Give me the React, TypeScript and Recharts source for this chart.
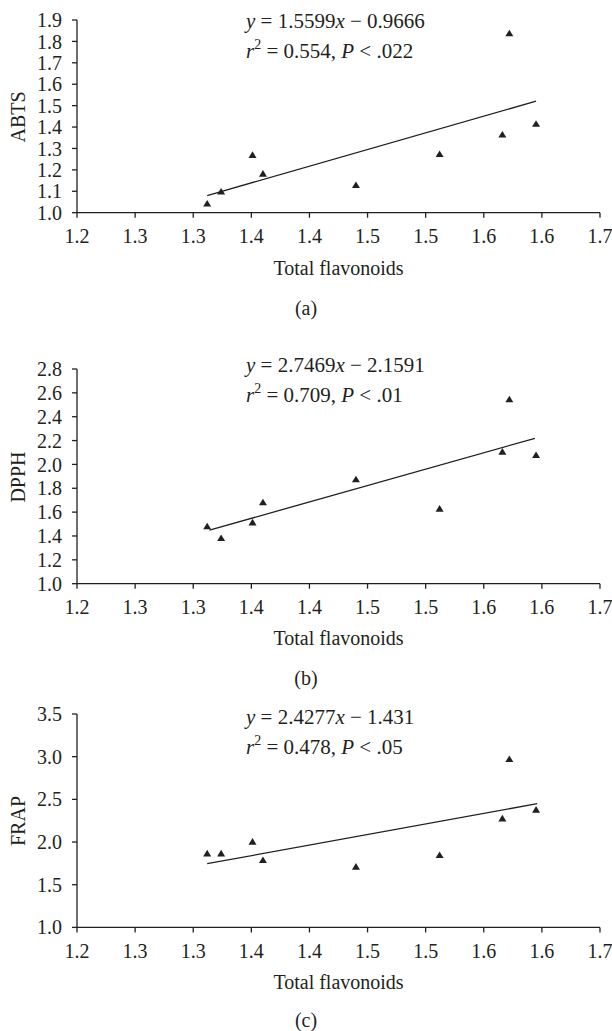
import { ScatterChart, Scatter, XAxis, YAxis } from "recharts";

const INK = "#231f20";
const FONT = '"Liberation Serif", "Times New Roman", serif';

// total flavonoids (shared x for the three panels)
const FLAVONOIDS = [1.312, 1.324, 1.351, 1.36, 1.44, 1.512, 1.566, 1.572, 1.595];
const ABTS = [1.043, 1.099, 1.27, 1.182, 1.129, 1.274, 1.365, 1.838, 1.415];
const DPPH = [1.481, 1.383, 1.514, 1.682, 1.875, 1.629, 2.107, 2.546, 2.079];
const FRAP = [1.867, 1.867, 2.004, 1.789, 1.711, 1.848, 2.277, 2.973, 2.379];

// fitted line end points
const TREND_ABTS = [
  { x: 1.312, y: 1.08 },
  { x: 1.595, y: 1.521 },
];
const TREND_DPPH = [
  { x: 1.314, y: 1.449 },
  { x: 1.594, y: 2.219 },
];
const TREND_FRAP = [
  { x: 1.312, y: 1.746 },
  { x: 1.596, y: 2.449 },
];

const X_TICKS = [1.2, 1.25, 1.3, 1.35, 1.4, 1.45, 1.5, 1.55, 1.6, 1.65];
const X_TICK_LABELS = ["1.2", "1.3", "1.3", "1.4", "1.4", "1.5", "1.5", "1.6", "1.6", "1.7"];
const Y_TICKS_ABTS = [1.0, 1.1, 1.2, 1.3, 1.4, 1.5, 1.6, 1.7, 1.8, 1.9];
const Y_TICKS_DPPH = [1.0, 1.2, 1.4, 1.6, 1.8, 2.0, 2.2, 2.4, 2.6, 2.8];
const Y_TICKS_FRAP = [1.0, 1.5, 2.0, 2.5, 3.0, 3.5];

const toPoints = (ys: number[]) => FLAVONOIDS.map((x, i) => ({ x, y: ys[i] }));

const Triangle = (props: any) => {
  const { cx, cy } = props;
  if (cx == null || cy == null) return <g />;
  return (
    <path
      d={`M${cx},${cy - 3.6}L${cx + 4},${cy + 3}L${cx - 4},${cy + 3}Z`}
      fill={INK}
    />
  );
};

const NoDot = () => <g />;

interface PanelProps {
  plotTop: number;
  plotBottom: number;
  yTicks: number[];
  values: number[];
  trend: { x: number; y: number }[];
}

const X_AXIS_H = 40;
const TICK_FONT = { fontSize: 20, fill: INK, fontFamily: FONT };

function Panel({ plotTop, plotBottom, yTicks, values, trend }: PanelProps) {
  const top = plotTop - 20;
  const height = plotBottom + X_AXIS_H - top;
  return (
    <div style={{ position: "absolute", left: 0, top, width: 612, height }}>
      <ScatterChart
        width={612}
        height={height}
        margin={{ top: 20, right: 12, bottom: 0, left: 0 }}
        style={{ fontFamily: FONT }}
      >
        <XAxis
          type="number"
          dataKey="x"
          domain={[1.2, 1.65]}
          ticks={X_TICKS}
          tickFormatter={(_v: number, i: number) => X_TICK_LABELS[i]}
          height={X_AXIS_H}
          tickSize={5}
          tickMargin={11}
          axisLine={{ stroke: INK, strokeWidth: 1.3 }}
          tickLine={{ stroke: INK, strokeWidth: 1.3 }}
          tick={TICK_FONT}
          interval={0}
          allowDataOverflow
        />
        <YAxis
          type="number"
          dataKey="y"
          domain={[yTicks[0], yTicks[yTicks.length - 1]]}
          ticks={yTicks}
          tickFormatter={(v: number) => v.toFixed(1)}
          width={77}
          tickSize={5}
          tickMargin={10}
          axisLine={{ stroke: INK, strokeWidth: 1.3 }}
          tickLine={{ stroke: INK, strokeWidth: 1.3 }}
          tick={TICK_FONT}
          interval={0}
          allowDataOverflow
        />
        <Scatter
          data={trend}
          line={{ stroke: INK, strokeWidth: 1.3 }}
          shape={NoDot}
          isAnimationActive={false}
        />
        <Scatter data={toPoints(values)} shape={Triangle} isAnimationActive={false} />
      </ScatterChart>
    </div>
  );
}

const textBase: React.CSSProperties = {
  position: "absolute",
  fontFamily: FONT,
  color: INK,
  lineHeight: 1,
  whiteSpace: "nowrap",
};

function Centered({ x, y, size = 20, rotate = false, children }: any) {
  return (
    <div
      style={{
        ...textBase,
        left: x,
        top: y,
        fontSize: size,
        transform: `translate(-50%, -50%)${rotate ? " rotate(-90deg)" : ""}`,
      }}
    >
      {children}
    </div>
  );
}

function Equation({ y, slope, intercept, r2, p }: any) {
  return (
    <>
      <div style={{ ...textBase, left: 246, top: y, fontSize: 21, transform: "translateY(-50%)" }}>
        <i>y</i> = {slope}
        <i>x</i> − {intercept}
      </div>
      <div style={{ ...textBase, left: 246, top: y + 30, fontSize: 21, transform: "translateY(-50%)" }}>
        <i>r</i>
        <span style={{ fontSize: 14, position: "relative", top: "-0.65em" }}>2</span> = {r2}, <i>P</i> &lt; {p}
      </div>
    </>
  );
}

export default function App() {
  return (
    <div
      style={{
        position: "absolute",
        left: 0,
        top: 0,
        width: 612,
        height: 1031,
        background: "#fff",
        overflow: "hidden",
      }}
    >
      <Panel plotTop={20} plotBottom={212.7} yTicks={Y_TICKS_ABTS} values={ABTS} trend={TREND_ABTS} />
      <Panel plotTop={369.3} plotBottom={584} yTicks={Y_TICKS_DPPH} values={DPPH} trend={TREND_DPPH} />
      <Panel plotTop={714.3} plotBottom={927.7} yTicks={Y_TICKS_FRAP} values={FRAP} trend={TREND_FRAP} />

      <Equation y={20.7} slope="1.5599" intercept="0.9666" r2="0.554" p=".022" />
      <Equation y={365} slope="2.7469" intercept="2.1591" r2="0.709" p=".01" />
      <Equation y={716.7} slope="2.4277" intercept="1.431" r2="0.478" p=".05" />

      <Centered x={17.5} y={116.5} rotate>ABTS</Centered>
      <Centered x={17.5} y={476.7} rotate>DPPH</Centered>
      <Centered x={17.5} y={821} rotate>FRAP</Centered>

      <Centered x={338.5} y={268}>Total flavonoids</Centered>
      <Centered x={338.5} y={638}>Total flavonoids</Centered>
      <Centered x={338.5} y={981.7}>Total flavonoids</Centered>

      <Centered x={306} y={308}>(a)</Centered>
      <Centered x={306} y={678}>(b)</Centered>
      <Centered x={306} y={1020}>(c)</Centered>
    </div>
  );
}
